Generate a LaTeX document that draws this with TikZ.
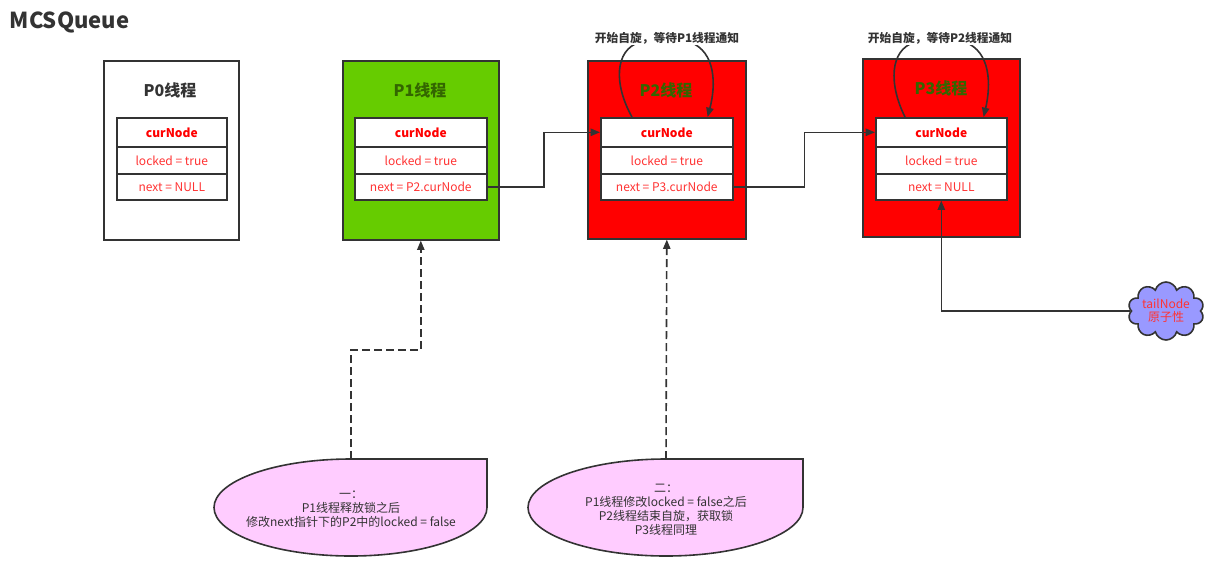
\documentclass[tikz,border=0pt]{standalone}
\usepackage{fontspec}
\setmainfont{Noto Sans CJK SC}
\usetikzlibrary{arrows.meta,shapes.symbols,calc}
\definecolor{edge}{HTML}{333333}
\definecolor{greenfill}{HTML}{66CC00}
\definecolor{redfill}{HTML}{FF0000}
\definecolor{darkgreen}{HTML}{336600}
\definecolor{lightred}{HTML}{FF3333}
\definecolor{pinkfill}{HTML}{FFCCFF}
\definecolor{cloudfill}{HTML}{9999FF}
\newcommand\tablerows[4]{%
  \node[rowbox, minimum width={#3*0.75pt}, minimum height={29*0.75pt}, text=redfill, font=\fontsize{9pt}{10pt}\selectfont\bfseries] (#1c) at (#2,117) {curNode};
  \node[rowbox, minimum width={#3*0.75pt}, minimum height={27*0.75pt}] (#1l) at (#2,146) {locked = true};
  \node[rowbox, minimum width={#3*0.75pt}, minimum height={26*0.75pt}] (#1n) at (#2,173) {#4};
}
\begin{document}
\begin{tikzpicture}[x=0.75pt,y=-0.75pt,
  thread/.style={draw=edge, line width=1.2pt, inner sep=0pt, anchor=north west},
  rowbox/.style={draw=edge, line width=1.2pt, fill=white, inner sep=0pt, anchor=north west, text=lightred, font=\fontsize{9pt}{10pt}\selectfont},
  tlabel/.style={font=\fontsize{12pt}{14pt}\selectfont\bfseries},
  link/.style={draw=edge, line width=1.2pt, -{Triangle[length=7pt,width=5.5pt]}},
  dlink/.style={link, dash pattern=on 6pt off 3pt},
  spin/.style={fill=white, inner sep=1pt, text=edge, font=\fontsize{8.8pt}{10pt}\selectfont\bfseries},
  callout/.style={draw=edge, line width=1.2pt, fill=pinkfill},
  ctext/.style={align=center, text=edge, font=\fontsize{9pt}{10.5pt}\selectfont}
]
\useasboundingbox (0,0) rectangle (1225,583);

\node[anchor=west, text=edge, font=\fontsize{16.5pt}{19pt}\selectfont\bfseries] (title) at (5,22) {MCSQueue};

% P0
\node[thread, fill=white, minimum width={135*0.75pt}, minimum height={179*0.75pt}] (p0) at (103,60) {};
\node[tlabel, text=edge] (p0t) at (170,90) {P0线程};
\tablerows{p0}{116}{110}{next = NULL}

% P1
\node[thread, fill=greenfill, minimum width={156*0.75pt}, minimum height={179*0.75pt}] (p1) at (342,60) {};
\node[tlabel, text=darkgreen] (p1t) at (420,90) {P1线程};
\tablerows{p1}{354}{132}{next = P2.curNode}

% P2
\node[thread, fill=redfill, minimum width={158*0.75pt}, minimum height={178*0.75pt}] (p2) at (587,60) {};
\node[tlabel, text=darkgreen] (p2t) at (666,90) {P2线程};
\tablerows{p2}{600}{132}{next = P3.curNode}

% P3
\node[thread, fill=redfill, minimum width={157*0.75pt}, minimum height={178*0.75pt}] (p3) at (862,58) {};
\node[tlabel, text=darkgreen] (p3t) at (941,88) {P3线程};
\tablerows{p3}{875}{131}{next = NULL}

% next links
\draw[link] (p1n.east) -| ($(p1n.east)!.5!(p2c.west)$) |- (p2c.west);
\draw[link] (p2n.east) -| ($(p2n.east)!.5!(p3c.west)$) |- (p3c.west);

% spin loops
\draw[link] ([xshift=32*0.75pt]p2c.north west) .. controls (614,85) and (614,50) .. (640,42) -- (690,42) .. controls (716,52) and (716,85) .. ([xshift=-26*0.75pt]p2c.north east);
\node[spin] (s2) at (667,38) {开始自旋，等待P1线程通知};
\draw[link] ([xshift=30*0.75pt]p3c.north west) .. controls (889,85) and (889,50) .. (915,42) -- (965,42) .. controls (991,52) and (991,85) .. ([xshift=-24*0.75pt]p3c.north east);
\node[spin] (s3) at (940,38) {开始自旋，等待P2线程通知};

% tail node
\node[cloud, cloud puffs=10, cloud ignores aspect, draw=edge, line width=1.2pt, fill=cloudfill,
      minimum width={76*0.75pt}, minimum height={58*0.75pt}, inner sep=0pt, align=center,
      text=lightred, font=\fontsize{9pt}{10pt}\selectfont] (tail) at (1166,311) {tailNode\\原子性};
\draw[link] (tail.west) -| (p3n.south);

% callout 1
\coordinate (c1top) at (351,459);
\path[callout] (c1top) -- (487,459) -- (487,507.5)
  .. controls (487,534) and (426,556) .. (351,556)
  .. controls (275,556) and (214,534) .. (214,507.5)
  .. controls (214,481) and (275,459) .. (c1top) -- cycle;
\node[ctext] (c1) at (351,509) {一：\\P1线程释放锁之后\\修改next指针下的P2中的locked = false};
\coordinate (k1) at (351,350);
\draw[dlink] (c1top) -- (k1) -| (p1.south);

% callout 2
\coordinate (c2top) at (666,459);
\path[callout] (c2top) -- (803,459) -- (803,507.5)
  .. controls (803,534) and (742,556) .. (666,556)
  .. controls (590,556) and (528,534) .. (528,507.5)
  .. controls (528,481) and (590,459) .. (c2top) -- cycle;
\node[ctext] (c2) at (666,510) {二：\\P1线程修改locked = false之后\\P2线程结束自旋，获取锁\\P3线程同理};
\draw[dlink] (c2top) -- (p2.south);
\end{tikzpicture}
\end{document}
